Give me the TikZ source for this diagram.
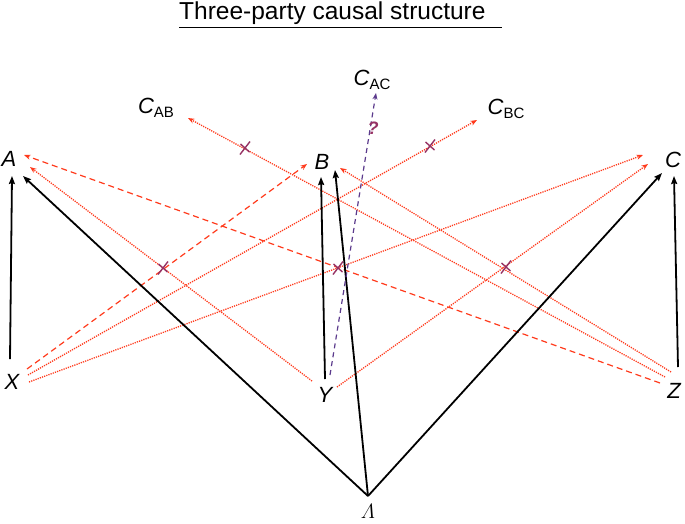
\documentclass[tikz,border=0pt]{standalone}
\usepackage{amsmath}
\usepackage{fontspec}
\setmainfont{Liberation Sans}
\usetikzlibrary{arrows.meta}
\definecolor{redl}{HTML}{FF3A1C}
\definecolor{purp}{HTML}{5B3A8C}
\definecolor{crossc}{HTML}{963264}
\tikzset{
  blk/.style={line width=1.8pt,-{Stealth[length=8pt,width=6pt,inset=1pt]}},
  reddash/.style={redl,line width=1.2pt,dash pattern=on 6pt off 4pt,-{Stealth[length=6.5pt,width=5pt]}},
  reddot/.style={redl,line width=1.3pt,dash pattern=on 1.2pt off 1.1pt,-{Stealth[length=6.5pt,width=5pt]}},
  purpdash/.style={purp,line width=1.2pt,dash pattern=on 5pt off 4pt,-{Stealth[length=6.5pt,width=5pt]}},
  crossmk/.style={crossc,line width=1.4pt},
  lbl/.style={anchor=base,inner sep=0pt,font=\fontsize{22}{22}\selectfont\itshape},
}
\newcommand{\mycross}[2]{\draw[crossmk] (#1,#2) ++(-5,6.5) -- ++(10,-13) (#1,#2) ++(-4.5,-4) -- ++(9,8);}
\newcommand{\csub}[1]{{\itshape C}\raisebox{-0.35ex}{\fontsize{15}{15}\selectfont #1}}
\begin{document}
\begin{tikzpicture}[x=1pt,y=-1pt]
\useasboundingbox (0,0) rectangle (685,523);
% title
\node[anchor=base west,inner sep=0pt,font=\fontsize{24.5}{24.5}\selectfont] (title) at (179,19) {\underline{Three-party causal structure\hspace{16pt}}};
% labels
\node[lbl] (A) at (9,166) {A};
\node[lbl] (B) at (322,169) {B};
\node[lbl] (C) at (673,167) {C};
\node[lbl] (X) at (12,389) {X};
\node[lbl] (Y) at (325,402) {Y};
\node[lbl] (Z) at (674,398) {Z};
\node[anchor=base,inner sep=0pt,font=\fontsize{21}{21}\selectfont] (L) at (368,518) {$\varLambda$};
\node[anchor=base,inner sep=0pt,font=\fontsize{22}{22}\selectfont] (CAB) at (156,113) {\csub{AB}};
\node[anchor=base,inner sep=0pt,font=\fontsize{22}{22}\selectfont] (CAC) at (372,85) {\csub{AC}};
\node[anchor=base,inner sep=0pt,font=\fontsize{22}{22}\selectfont] (CBC) at (506,114) {\csub{BC}};
% ports
\coordinate (xA1) at (10,359);  \coordinate (aX) at (12,176);
\coordinate (lam) at (368,496);
\coordinate (aL) at (23,176);
\coordinate (yB) at (325,379); \coordinate (bY) at (321,177);
\coordinate (bL) at (335,170);
\coordinate (cL) at (662,173);
\coordinate (zC) at (678,367); \coordinate (cZ) at (674,176);
\coordinate (xB) at (27,369);  \coordinate (bX) at (307,164);
\coordinate (zA) at (660,383); \coordinate (aZ) at (24,155);
\coordinate (xBC) at (28,375); \coordinate (cbcX) at (477,120);
\coordinate (xC) at (29,382);  \coordinate (cX) at (643,155);
\coordinate (yA) at (312,381); \coordinate (aY) at (30,167);
\coordinate (yC) at (337,387); \coordinate (cY) at (648,164);
\coordinate (zB) at (671,372); \coordinate (bZ) at (340,168);
\coordinate (zAB) at (665,377); \coordinate (cabZ) at (188,118);
\coordinate (yAC) at (330,375); \coordinate (cacY) at (376,93);
% red connectors
\draw[reddash] (xB) -- (bX);
\draw[reddash] (zA) -- (aZ);
\draw[reddot] (xBC) -- (cbcX);
\draw[reddot] (xC) -- (cX);
\draw[reddot] (yA) -- (aY);
\draw[reddot] (yC) -- (cY);
\draw[reddot] (zB) -- (bZ);
\draw[reddot] (zAB) -- (cabZ);
% black connectors
\draw[blk] (xA1) -- (aX);
\draw[blk] (lam) -- (aL);
\draw[blk] (yB) -- (bY);
\draw[blk] (lam) -- (bL);
\draw[blk] (lam) -- (cL);
\draw[blk] (zC) -- (cZ);
% purple
\draw[purpdash] (yAC) -- (cacY);
\node[crossc,font=\fontsize{18}{18}\selectfont\bfseries\itshape,inner sep=0pt] (q) at (373,128) {?};
% crosses
\mycross{245}{148}
\mycross{430}{146}
\mycross{163}{268}
\mycross{338}{268}
\mycross{506}{267}
\end{tikzpicture}
\end{document}
